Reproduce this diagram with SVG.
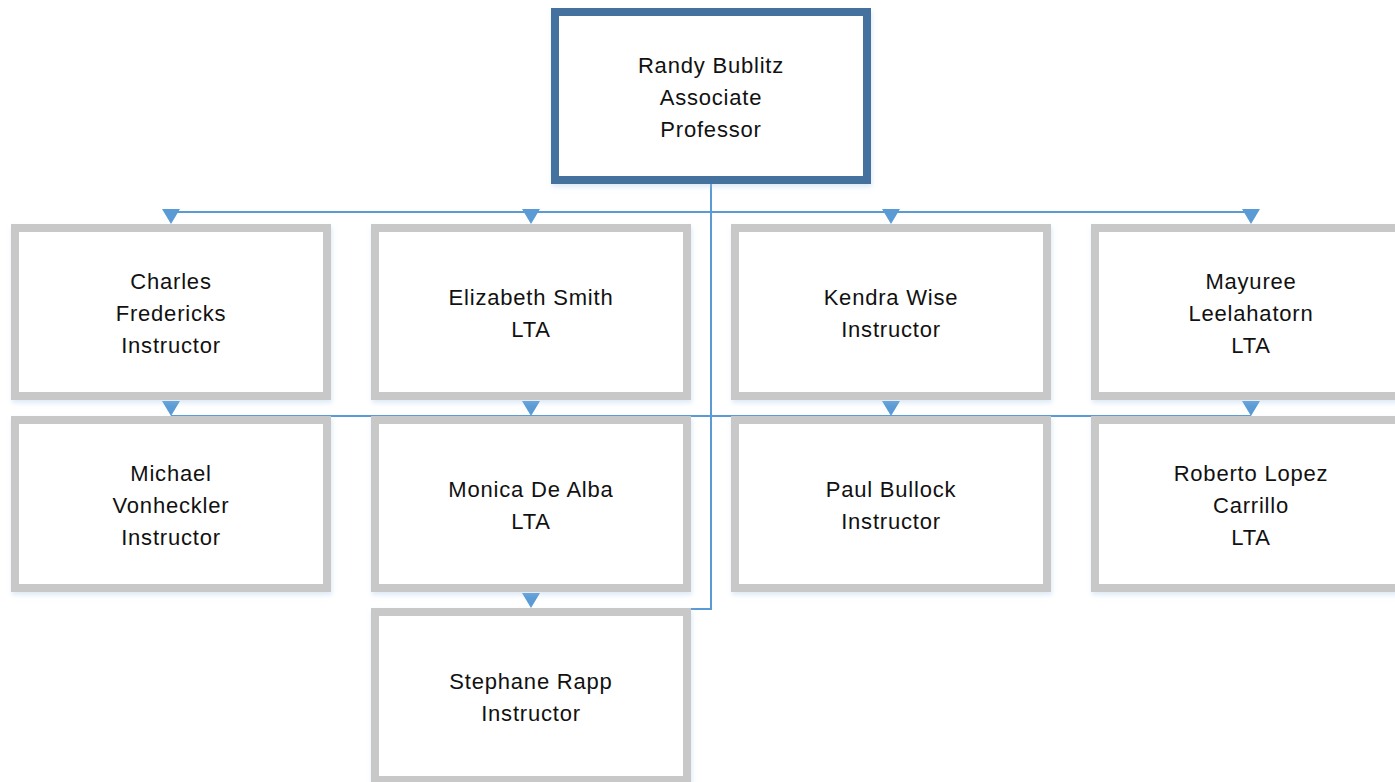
<svg xmlns="http://www.w3.org/2000/svg" width="1395" height="782" viewBox="0 0 1395 782">
<style>
.bg{fill:#ffffff}
.box{fill:#ffffff;stroke:#C8C8C8;stroke-width:8;filter:url(#sh)}
.top{fill:#ffffff;stroke:#44719E;stroke-width:8;filter:url(#sh)}
.ln{fill:none;stroke:#5B9BD5;stroke-width:2}
.ar{fill:#5B9BD5}
text{font-family:"Liberation Sans",Arial,sans-serif;font-size:22px;fill:#111111;text-anchor:middle;letter-spacing:0.8px}
</style>
<defs>
<filter id="sh" x="-5%" y="-5%" width="112%" height="115%">
<feDropShadow dx="1" dy="3" stdDeviation="2.5" flood-color="#9DC3E6" flood-opacity="0.35"/>
</filter>
<path id="tri" d="M-9 -15 L9 -15 L0 0 Z"/>
</defs>
<rect class="bg" x="0" y="0" width="1395" height="782"/>
<g id="connectors">
<path class="ln" d="M711 184 V609 H531"/>
<path class="ln" d="M171 212 H1251"/>
<path class="ln" d="M171 416 H1251"/>
<use href="#tri" class="ar" x="171" y="224"/>
<use href="#tri" class="ar" x="531" y="224"/>
<use href="#tri" class="ar" x="891" y="224"/>
<use href="#tri" class="ar" x="1251" y="224"/>
<use href="#tri" class="ar" x="171" y="416"/>
<use href="#tri" class="ar" x="531" y="416"/>
<use href="#tri" class="ar" x="891" y="416"/>
<use href="#tri" class="ar" x="1251" y="416"/>
<use href="#tri" class="ar" x="531" y="608"/>
</g>
<g id="randy">
<rect class="top" x="555" y="12" width="312" height="168"/>
<text x="711" y="73">Randy Bublitz</text>
<text x="711" y="105">Associate</text>
<text x="711" y="137">Professor</text>
</g>
<g id="charles">
<rect class="box" x="15" y="228" width="312" height="168"/>
<text x="171" y="289">Charles</text>
<text x="171" y="321">Fredericks</text>
<text x="171" y="353">Instructor</text>
</g>
<g id="elizabeth">
<rect class="box" x="375" y="228" width="312" height="168"/>
<text x="531" y="305">Elizabeth Smith</text>
<text x="531" y="337">LTA</text>
</g>
<g id="kendra">
<rect class="box" x="735" y="228" width="312" height="168"/>
<text x="891" y="305">Kendra Wise</text>
<text x="891" y="337">Instructor</text>
</g>
<g id="mayuree">
<rect class="box" x="1095" y="228" width="312" height="168"/>
<text x="1251" y="289">Mayuree</text>
<text x="1251" y="321">Leelahatorn</text>
<text x="1251" y="353">LTA</text>
</g>
<g id="michael">
<rect class="box" x="15" y="420" width="312" height="168"/>
<text x="171" y="481">Michael</text>
<text x="171" y="513">Vonheckler</text>
<text x="171" y="545">Instructor</text>
</g>
<g id="monica">
<rect class="box" x="375" y="420" width="312" height="168"/>
<text x="531" y="497">Monica De Alba</text>
<text x="531" y="529">LTA</text>
</g>
<g id="paul">
<rect class="box" x="735" y="420" width="312" height="168"/>
<text x="891" y="497">Paul Bullock</text>
<text x="891" y="529">Instructor</text>
</g>
<g id="roberto">
<rect class="box" x="1095" y="420" width="312" height="168"/>
<text x="1251" y="481">Roberto Lopez</text>
<text x="1251" y="513">Carrillo</text>
<text x="1251" y="545">LTA</text>
</g>
<g id="stephane">
<rect class="box" x="375" y="612" width="312" height="168"/>
<text x="531" y="689">Stephane Rapp</text>
<text x="531" y="721">Instructor</text>
</g>
</svg>
